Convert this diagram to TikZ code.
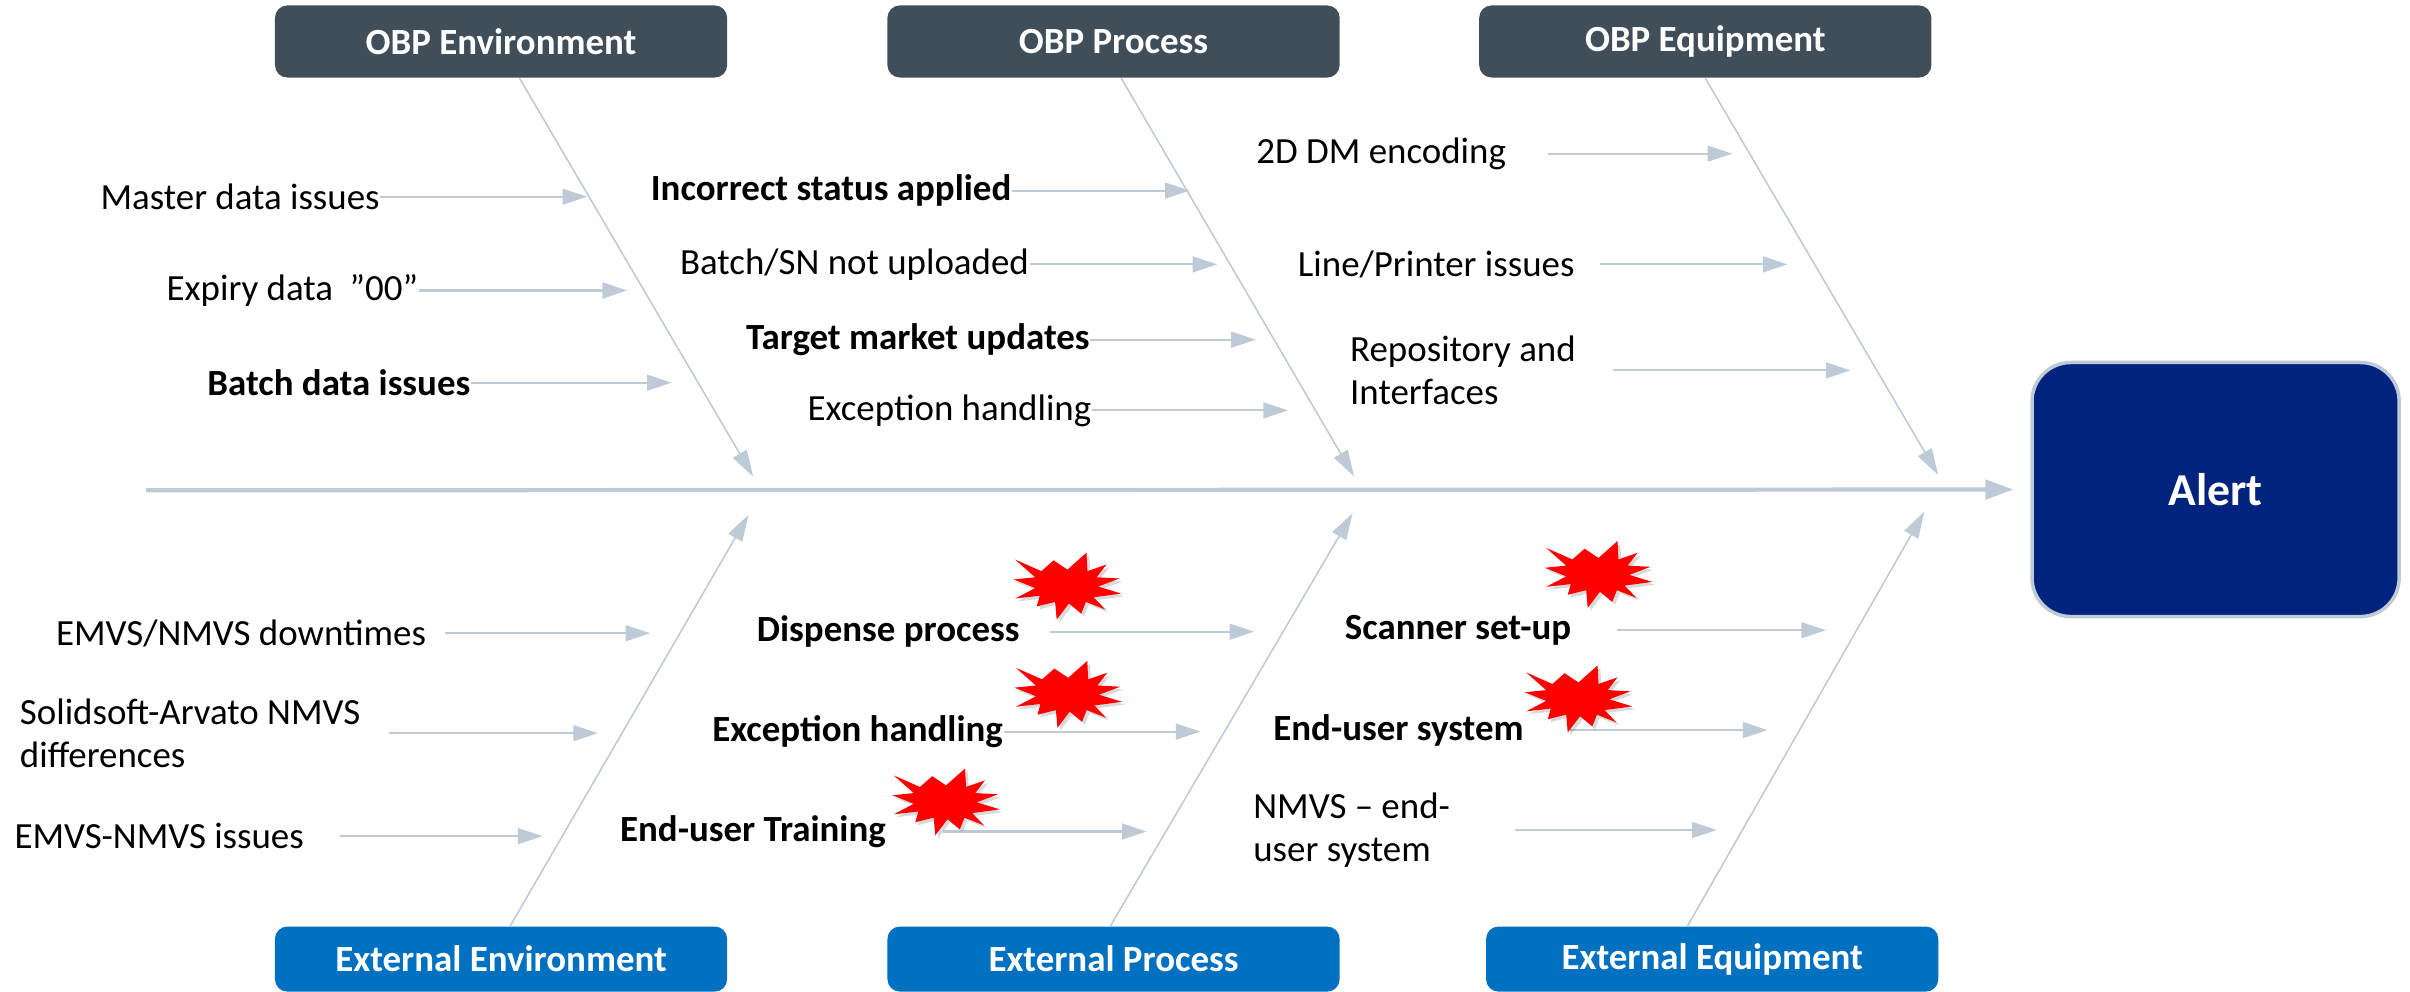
\documentclass[tikz,border=0pt]{standalone}
\usepackage{fontspec}
\setmainfont{Carlito}
\usetikzlibrary{arrows.meta,calc,shadows}

\definecolor{boxgray}{RGB}{64,78,90}
\definecolor{boxblue}{RGB}{0,112,192}
\definecolor{alertnavy}{RGB}{0,36,125}
\definecolor{bonegray}{RGB}{190,203,215}

% red explosion mark
\newcommand{\burst}[1]{\fill[red, drop shadow={opacity=0.3, shadow xshift=0.8pt, shadow yshift=-0.8pt}, shift={#1}]
  (-34,-17.5) -- (-17,-10) -- (-9,-17) -- (0,-11) -- (12.4,-22) -- (13,-10) -- (25.4,-14.3) -- (19,-6) -- (33.8,-5.2) -- (20,0)
  -- (35,4.6) -- (17,7) -- (24.7,15) -- (12,10) -- (9,17.6) -- (1,11) -- (-7,21.5) -- (-8,10) -- (-20,13) -- (-18,6)
  -- (-34,7.8) -- (-21,1) -- (-35,-4.6) -- (-21,-6) -- cycle;}

\begin{document}
\fontsize{10.5}{12.4}\selectfont
\begin{tikzpicture}[x=0.01537cm, y=-0.01537cm,
    catbox/.style={rounded corners=3.5pt, minimum width=4.52cm, inner sep=0pt, text=white, font=\bfseries},
    obpbox/.style={catbox, fill=boxgray, minimum height=0.72cm},
    extbox/.style={catbox, fill=boxblue, minimum height=0.65cm},
    cause/.style={anchor=west, inner sep=0pt, align=left},
    keycause/.style={cause, font=\bfseries},
    feed/.style={draw=bonegray, line width=0.6pt, -{Triangle[length=7pt,width=4.5pt]}},
    bone/.style={draw=bonegray, line width=0.45pt, -{Triangle[length=7.5pt,width=4.5pt]}},
    spine/.style={draw=bonegray, line width=1.2pt, -{Triangle[length=8pt,width=5.5pt]}}]
    \useasboundingbox (0,0) rectangle (1568,645.4);

    % effect
    \node[draw=bonegray, line width=1pt, fill=alertnavy, rounded corners=11pt, minimum width=3.67cm, minimum height=2.54cm,
          text=white, font=\fontsize{13}{15}\selectfont\bfseries] (alert) at (1441.5,318.5) {Alert};
    \coordinate (spinestart) at (95,319);
    \draw[spine, shorten >=4.8pt] (spinestart) -- (alert.west);

    % categories
    \node[obpbox] (obpenv) at (326,27) {OBP Environment};
    \node[obpbox] (obpproc) at (724.5,27) {OBP Process};
    \node[obpbox] (obpequip) at (1109.5,27) {OBP Equipment};
    \node[extbox] (extenv) at (326,624) {External Environment};
    \node[extbox] (extproc) at (724.5,624) {External Process};
    \node[extbox] (extequip) at (1114,624) {External Equipment};

    % bones
    \coordinate (envtip) at (490,310);
    \coordinate (proctip) at (881,310);
    \coordinate (equiptip) at (1261,309);
    \coordinate (xenvtip) at (487,335);
    \coordinate (xproctip) at (880,334);
    \coordinate (xequiptip) at (1252,333);
    \draw[bone] ($(obpenv.south)+(12,0)$) -- (envtip);
    \draw[bone] ($(obpproc.south)+(5,0)$) -- (proctip);
    \draw[bone] (obpequip.south) -- (equiptip);
    \draw[bone] ($(extenv.north)+(6,0)$) -- (xenvtip);
    \draw[bone] ($(extproc.north)+(-2,0)$) -- (xproctip);
    \draw[bone] ($(extequip.north)+(-16,0)$) -- (xequiptip);

    % OBP Environment
    \node[cause] (mdi) at (65,128) {Master data issues};
    \node[cause] (exd) at (108,189) {Expiry data~~”00”};
    \node[keycause] (bdi) at (134.5,249) {Batch data issues};
    \coordinate (mditip) at (382,128);
    \coordinate (exdtip) at (408,189);
    \coordinate (bditip) at (437,249);
    \draw[feed] (mdi.east) -- (mditip);
    \draw[feed] (exd.east) -- (exdtip);
    \draw[feed] (bdi.east) -- (bditip);

    % OBP Process
    \node[keycause] (isa) at (423,124) {Incorrect status applied};
    \node[cause] (bsn) at (442,172) {Batch/SN not uploaded};
    \node[keycause] (tmu) at (485,221) {Target market updates};
    \node[cause] (exh) at (525,267) {Exception handling};
    \coordinate (isatip) at (774,124);
    \coordinate (bsntip) at (792,172);
    \coordinate (tmutip) at (817,221);
    \coordinate (exhtip) at (838,267);
    \draw[feed] (isa.east) -- (isatip);
    \draw[feed] (bsn.east) -- (bsntip);
    \draw[feed] (tmu.east) -- (tmutip);
    \draw[feed] (exh.east) -- (exhtip);

    % OBP Equipment
    \node[cause] (ddm) at (817,100) {2D DM encoding};
    \node[cause] (lpi) at (844,172) {Line/Printer issues};
    \node[cause] (rep) at (878,241) {Repository and\\Interfaces};
    \coordinate (ddmtip) at (1127,100);
    \coordinate (lpitip) at (1163,172);
    \coordinate (reptip) at (1204,241);
    \draw[feed] ($(ddm.east)+(27,0)$) -- (ddmtip);
    \draw[feed] ($(lpi.east)+(16,0)$) -- (lpitip);
    \draw[feed] ($(rep.east)+(24,0)$) -- (reptip);

    % External Environment
    \node[cause] (dwn) at (36,412) {EMVS/NMVS downtimes};
    \node[cause] (sol) at (12.5,477) {Solidsoft-Arvato NMVS\\differences};
    \node[cause] (iss) at (9,544) {EMVS-NMVS issues};
    \coordinate (dwntip) at (423,412);
    \coordinate (soltip) at (389,477);
    \coordinate (isstip) at (353,544);
    \draw[feed] ($(dwn.east)+(12,0)$) -- (dwntip);
    \draw[feed] ($(sol.east)+(18,0)$) -- (soltip);
    \draw[feed] ($(iss.east)+(23,0)$) -- (isstip);

    % External Process
    \node[keycause] (dsp) at (492,411) {Dispense process};
    \node[keycause] (exb) at (463,476) {Exception handling};
    \node[keycause] (eut) at (403,541) {End-user Training};
    \coordinate (dsptip) at (816,411);
    \coordinate (exbtip) at (781,476);
    \coordinate (euttip) at (746,541);
    \draw[feed] ($(dsp.east)+(19,0)$) -- (dsptip);
    \draw[feed] (exb.east) -- (exbtip);
    \draw[feed] ($(eut.east)+(37,0)$) -- (euttip);

    % External Equipment
    \node[keycause] (scn) at (874.5,410) {Scanner set-up};
    \node[keycause] (eus) at (828,475) {End-user system};
    \node[cause] (nmv) at (815,540) {NMVS – end-\\user system};
    \coordinate (scntip) at (1188,410);
    \coordinate (eustip) at (1150,475);
    \coordinate (nmvtip) at (1117,540);
    \draw[feed] ($(scn.east)+(29,0)$) -- (scntip);
    \draw[feed] ($(eus.east)+(29,0)$) -- (eustip);
    \draw[feed] ($(nmv.east)+(42,0)$) -- (nmvtip);

    % explosions
    \burst{(694.5,381.6)}
    \burst{(695,452)}
    \burst{(615.5,522)}
    \burst{(1040,374)}
    \burst{(1027,455)}
\end{tikzpicture}
\end{document}
